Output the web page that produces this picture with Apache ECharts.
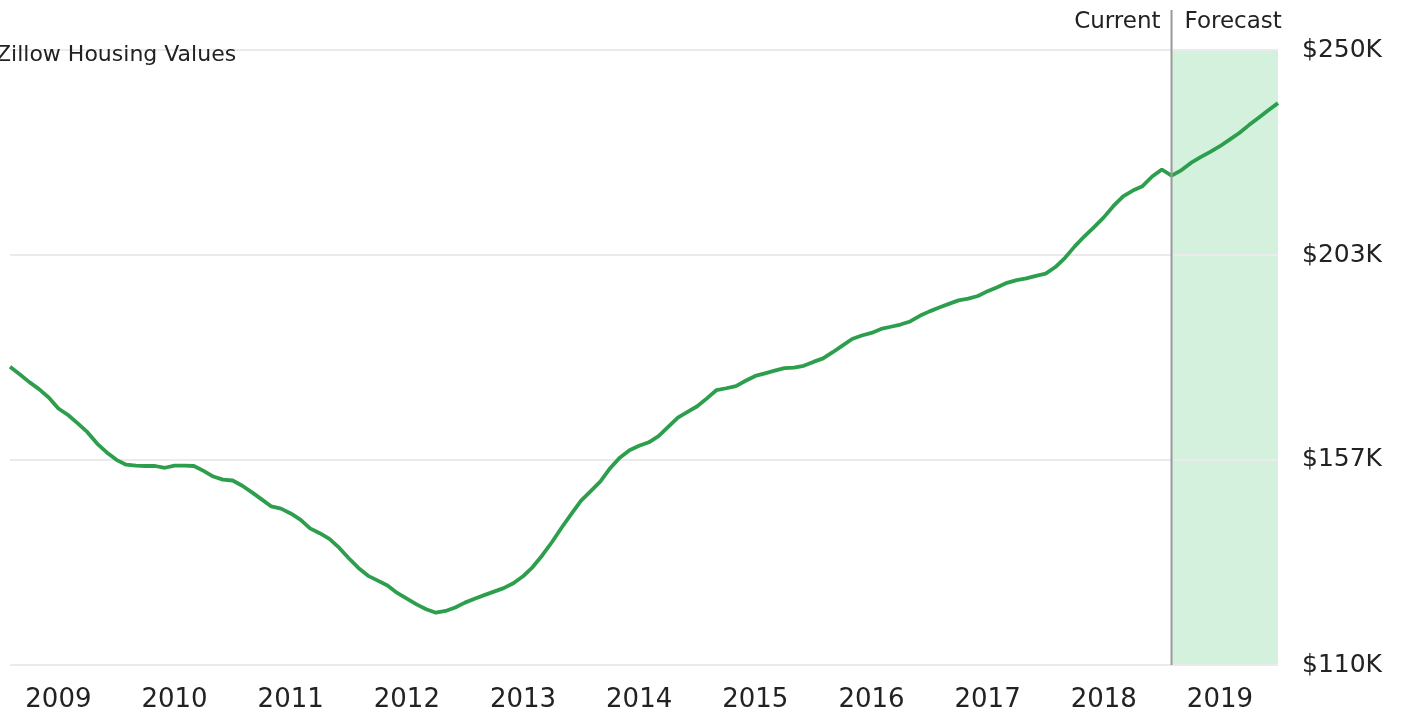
<!DOCTYPE html>
<html><head><meta charset="utf-8">
<script src="https://cdn.jsdelivr.net/npm/echarts@6/dist/echarts.min.js"></script>
<style>html,body{margin:0;padding:0;background:#fff}#c{width:1407px;height:715px}</style>
</head><body><div id="c"></div>
<script>
// Monthly Zillow home value index (thousands of $), Aug 2008 .. Jul 2019
const startYear = 2008, startMonth = 8;
const homeValues = [
  177.9,176.2,174.4,172.8,170.9,168.4,166.9,165.0,163.0,160.4,158.4,156.7,
  155.6,155.4,155.3,155.3,154.9,155.4,155.4,155.3,154.2,152.9,152.2,152.0,
  150.8,149.3,147.7,146.1,145.6,144.5,143.1,141.1,140.0,138.7,136.7,134.3,
  132.1,130.3,129.2,128.1,126.4,125.1,123.8,122.7,121.9,122.3,123.1,124.2,
  125.1,125.9,126.7,127.5,128.6,130.2,132.3,135.0,138.0,141.3,144.4,147.4,
  149.6,151.8,154.8,157.2,158.9,159.9,160.7,162.1,164.2,166.3,167.6,168.9,
  170.7,172.6,173.0,173.5,174.7,175.8,176.4,177.0,177.6,177.7,178.1,179.0,
  179.8,181.2,182.7,184.2,185.0,185.6,186.5,187.0,187.5,188.2,189.5,190.5,
  191.4,192.2,193.0,193.4,194.0,195.1,196.0,197.0,197.6,198.0,198.6,199.1,
  200.6,202.7,205.3,207.6,209.7,211.9,214.5,216.7,218.0,219.0,221.2,222.8,
  221.4,222.6,224.3,225.6,226.8,228.1,229.6,231.1,232.9,234.6,236.3,237.9
];
const yTicks = [110, 156.667, 203.333, 250];
const currentMonth = '2018-08';
const forecastEnd = '2019-07';
const titleText = 'Zillow Housing Values';
const headerLeft = 'Current';
const headerRight = 'Forecast';

const months = homeValues.map((_, i) => {
  const m = startMonth - 1 + i;
  return (startYear + Math.floor(m / 12)) + '-' + String(m % 12 + 1).padStart(2, '0');
});

const FONT = 'DejaVu Sans';
const chart = echarts.init(document.getElementById('c'), null, {renderer: 'canvas'});
chart.setOption({
  animation: false,
  backgroundColor: '#fff',
  title: {
    text: titleText, left: -4, top: 44, padding: 0,
    textStyle: {fontFamily: FONT, fontSize: 22, fontWeight: 'normal', color: '#222'}
  },
  grid: {left: 10, right: 129, top: 50, bottom: 50},
  xAxis: {
    type: 'category', data: months, boundaryGap: false,
    axisLine: {show: false}, axisTick: {show: false}, splitLine: {show: false},
    axisLabel: {
      interval: (idx, val) => val.endsWith('-01'),
      formatter: v => v.slice(0, 4),
      margin: 22, fontFamily: FONT, fontSize: 26, color: '#222'
    }
  },
  yAxis: {
    type: 'value', position: 'right', min: 110, max: 250, z: 1.5,
    axisLine: {show: false},
    axisTick: {show: false, customValues: yTicks},
    axisLabel: {
      customValues: yTicks, margin: 24, fontFamily: FONT, fontSize: 25, color: '#222',
      formatter: v => '$' + Math.round(v) + 'K'
    },
    splitLine: {show: true, lineStyle: {color: '#ebebeb', width: 2}}
  },
  series: [{
    type: 'line', data: homeValues, showSymbol: false, symbol: 'none',
    lineStyle: {color: '#2c9e4c', width: 3.8}, z: 3,
    markArea: {
      silent: true,
      itemStyle: {color: '#d4f1de'},
      data: [[{xAxis: currentMonth}, {xAxis: forecastEnd}]]
    }
  }]
});

const px = chart.convertToPixel({xAxisIndex: 0}, currentMonth);
const yBottom = chart.convertToPixel({yAxisIndex: 0}, 110);
chart.setOption({
  graphic: [
    {type: 'line', z: 10, shape: {x1: px, y1: 10, x2: px, y2: yBottom}, style: {stroke: '#999', lineWidth: 2}},
    {type: 'text', z: 10, x: px - 11, y: 22, style: {text: headerLeft, align: 'right', verticalAlign: 'middle', font: '23px "DejaVu Sans"', fill: '#222'}},
    {type: 'text', z: 10, x: px + 13, y: 22, style: {text: headerRight, align: 'left', verticalAlign: 'middle', font: '23px "DejaVu Sans"', fill: '#222'}}
  ]
});
</script></body></html>
